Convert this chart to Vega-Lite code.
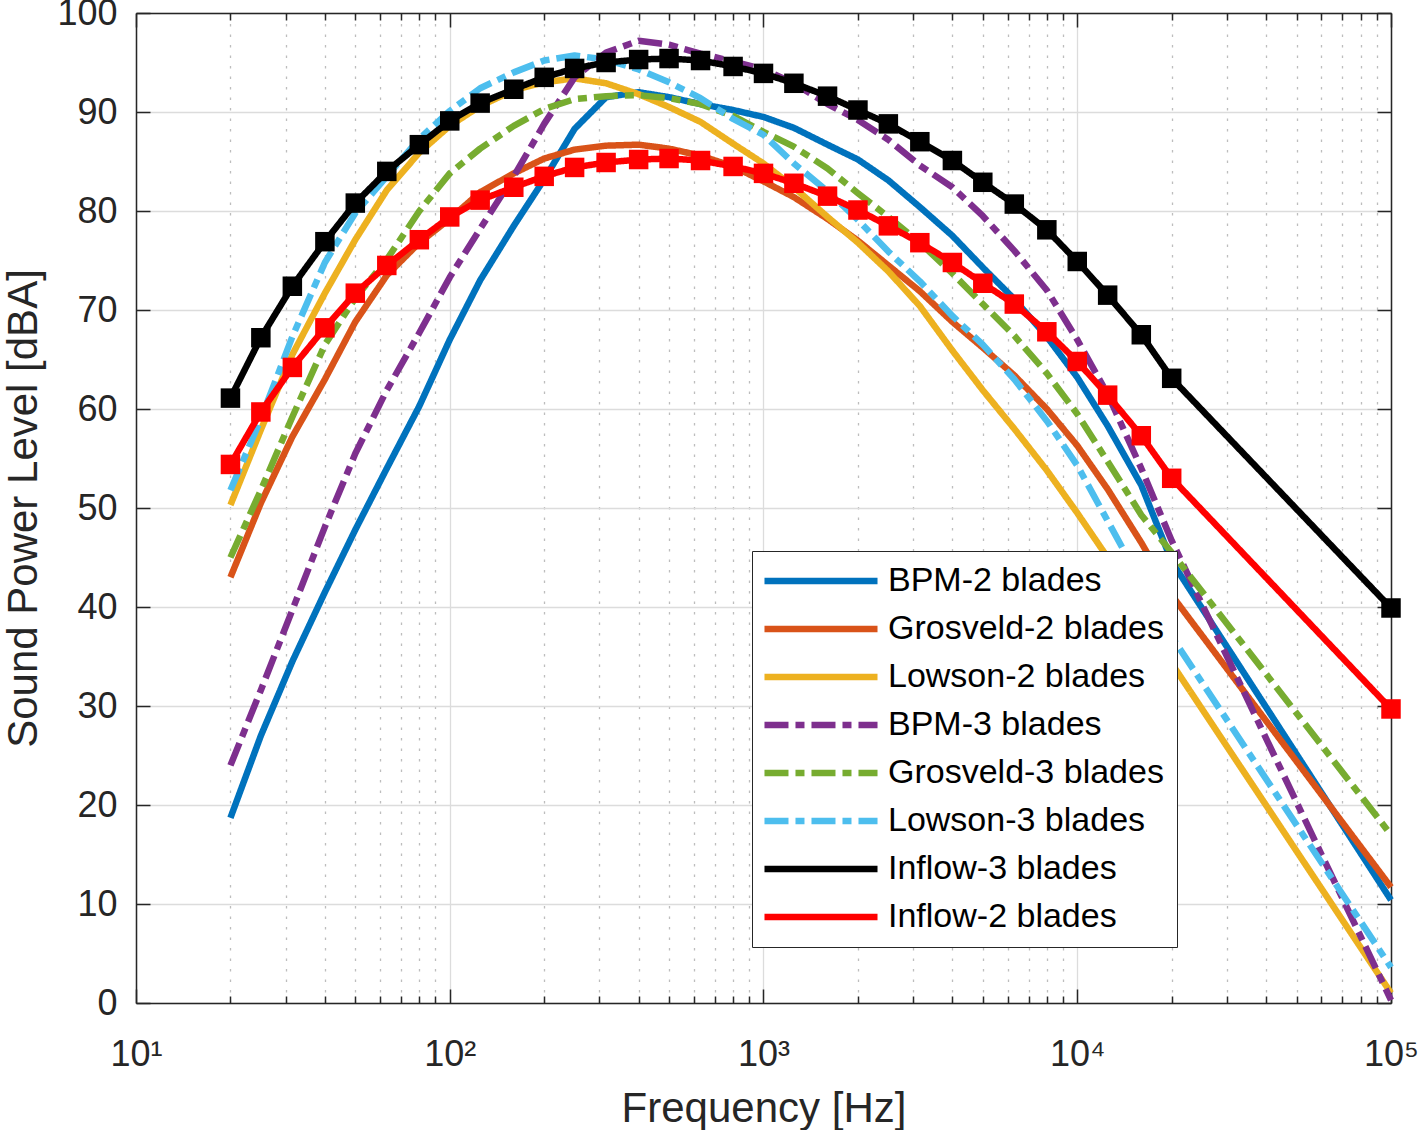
{
  "$schema": "https://vega.github.io/schema/vega-lite/v6.json",
  "width": 1255,
  "height": 990,
  "autosize": {"type": "none"},
  "padding": {"left": 136, "top": 13, "right": 27, "bottom": 127},
  "background": "white",
  "config": {"view": {"stroke": null}, "font": "Liberation Sans"},
  "data": {"values": [
    {"f": 20, "BPM-2 blades": 18.7, "Grosveld-2 blades": 43.0, "Lowson-2 blades": 50.3, "BPM-3 blades": 24.0, "Grosveld-3 blades": 45.0, "Lowson-3 blades": 51.8, "Inflow-3 blades": 61.1, "Inflow-2 blades": 54.4},
    {"f": 25, "BPM-2 blades": 27.0, "Grosveld-2 blades": 50.5, "Lowson-2 blades": 57.9, "BPM-3 blades": 31.6, "Grosveld-3 blades": 51.8, "Lowson-3 blades": 59.0, "Inflow-3 blades": 67.2, "Inflow-2 blades": 59.7},
    {"f": 31.5, "BPM-2 blades": 34.5, "Grosveld-2 blades": 57.2, "Lowson-2 blades": 65.5, "BPM-3 blades": 39.7, "Grosveld-3 blades": 59.2, "Lowson-3 blades": 67.3, "Inflow-3 blades": 72.4, "Inflow-2 blades": 64.2},
    {"f": 40, "BPM-2 blades": 41.5, "Grosveld-2 blades": 63.0, "Lowson-2 blades": 71.7, "BPM-3 blades": 48.1, "Grosveld-3 blades": 66.5, "Lowson-3 blades": 74.8, "Inflow-3 blades": 76.9, "Inflow-2 blades": 68.2},
    {"f": 50, "BPM-2 blades": 47.8, "Grosveld-2 blades": 68.8, "Lowson-2 blades": 77.1, "BPM-3 blades": 55.5, "Grosveld-3 blades": 71.2, "Lowson-3 blades": 79.8, "Inflow-3 blades": 80.8, "Inflow-2 blades": 71.7},
    {"f": 63, "BPM-2 blades": 54.0, "Grosveld-2 blades": 73.5, "Lowson-2 blades": 82.1, "BPM-3 blades": 61.9, "Grosveld-3 blades": 75.1, "Lowson-3 blades": 83.5, "Inflow-3 blades": 84.0, "Inflow-2 blades": 74.5},
    {"f": 80, "BPM-2 blades": 60.3, "Grosveld-2 blades": 76.8, "Lowson-2 blades": 85.9, "BPM-3 blades": 67.7, "Grosveld-3 blades": 80.0, "Lowson-3 blades": 87.3, "Inflow-3 blades": 86.7, "Inflow-2 blades": 77.1},
    {"f": 100, "BPM-2 blades": 67.0, "Grosveld-2 blades": 79.2, "Lowson-2 blades": 88.6, "BPM-3 blades": 73.3, "Grosveld-3 blades": 83.8, "Lowson-3 blades": 90.1, "Inflow-3 blades": 89.1, "Inflow-2 blades": 79.4},
    {"f": 125, "BPM-2 blades": 73.0, "Grosveld-2 blades": 81.9, "Lowson-2 blades": 90.6, "BPM-3 blades": 78.2, "Grosveld-3 blades": 86.3, "Lowson-3 blades": 92.4, "Inflow-3 blades": 90.9, "Inflow-2 blades": 81.1},
    {"f": 160, "BPM-2 blades": 78.5, "Grosveld-2 blades": 83.8, "Lowson-2 blades": 92.2, "BPM-3 blades": 83.5, "Grosveld-3 blades": 88.6, "Lowson-3 blades": 94.0, "Inflow-3 blades": 92.3, "Inflow-2 blades": 82.4},
    {"f": 200, "BPM-2 blades": 83.2, "Grosveld-2 blades": 85.3, "Lowson-2 blades": 93.0, "BPM-3 blades": 88.8, "Grosveld-3 blades": 90.3, "Lowson-3 blades": 95.2, "Inflow-3 blades": 93.5, "Inflow-2 blades": 83.5},
    {"f": 250, "BPM-2 blades": 88.3, "Grosveld-2 blades": 86.2, "Lowson-2 blades": 93.4, "BPM-3 blades": 93.5, "Grosveld-3 blades": 91.3, "Lowson-3 blades": 95.7, "Inflow-3 blades": 94.4, "Inflow-2 blades": 84.4},
    {"f": 315, "BPM-2 blades": 91.5, "Grosveld-2 blades": 86.6, "Lowson-2 blades": 92.9, "BPM-3 blades": 96.0, "Grosveld-3 blades": 91.6, "Lowson-3 blades": 95.3, "Inflow-3 blades": 95.0, "Inflow-2 blades": 84.9},
    {"f": 400, "BPM-2 blades": 92.0, "Grosveld-2 blades": 86.7, "Lowson-2 blades": 91.8, "BPM-3 blades": 97.2, "Grosveld-3 blades": 91.7, "Lowson-3 blades": 94.3, "Inflow-3 blades": 95.3, "Inflow-2 blades": 85.2},
    {"f": 500, "BPM-2 blades": 91.5, "Grosveld-2 blades": 86.3, "Lowson-2 blades": 90.5, "BPM-3 blades": 96.8, "Grosveld-3 blades": 91.4, "Lowson-3 blades": 93.0, "Inflow-3 blades": 95.4, "Inflow-2 blades": 85.3},
    {"f": 630, "BPM-2 blades": 90.8, "Grosveld-2 blades": 85.6, "Lowson-2 blades": 89.0, "BPM-3 blades": 95.9, "Grosveld-3 blades": 90.8, "Lowson-3 blades": 91.4, "Inflow-3 blades": 95.2, "Inflow-2 blades": 85.1},
    {"f": 800, "BPM-2 blades": 90.2, "Grosveld-2 blades": 84.5, "Lowson-2 blades": 86.8, "BPM-3 blades": 95.1, "Grosveld-3 blades": 89.6, "Lowson-3 blades": 89.3, "Inflow-3 blades": 94.6, "Inflow-2 blades": 84.5},
    {"f": 1000, "BPM-2 blades": 89.5, "Grosveld-2 blades": 83.0, "Lowson-2 blades": 84.8, "BPM-3 blades": 94.3, "Grosveld-3 blades": 88.0, "Lowson-3 blades": 87.7, "Inflow-3 blades": 93.9, "Inflow-2 blades": 83.8},
    {"f": 1250, "BPM-2 blades": 88.4, "Grosveld-2 blades": 81.4, "Lowson-2 blades": 82.4, "BPM-3 blades": 92.9, "Grosveld-3 blades": 86.5, "Lowson-3 blades": 84.8, "Inflow-3 blades": 92.9, "Inflow-2 blades": 82.8},
    {"f": 1600, "BPM-2 blades": 86.7, "Grosveld-2 blades": 79.2, "Lowson-2 blades": 79.4, "BPM-3 blades": 90.8, "Grosveld-3 blades": 84.3, "Lowson-3 blades": 82.0, "Inflow-3 blades": 91.6, "Inflow-2 blades": 81.5},
    {"f": 2000, "BPM-2 blades": 85.2, "Grosveld-2 blades": 77.0, "Lowson-2 blades": 76.8, "BPM-3 blades": 89.2, "Grosveld-3 blades": 81.8, "Lowson-3 blades": 79.1, "Inflow-3 blades": 90.2, "Inflow-2 blades": 80.1},
    {"f": 2500, "BPM-2 blades": 83.1, "Grosveld-2 blades": 74.5, "Lowson-2 blades": 73.9, "BPM-3 blades": 87.2, "Grosveld-3 blades": 79.4, "Lowson-3 blades": 75.9, "Inflow-3 blades": 88.8, "Inflow-2 blades": 78.5},
    {"f": 3150, "BPM-2 blades": 80.4, "Grosveld-2 blades": 71.9, "Lowson-2 blades": 70.4, "BPM-3 blades": 84.6, "Grosveld-3 blades": 76.8, "Lowson-3 blades": 72.9, "Inflow-3 blades": 87.0, "Inflow-2 blades": 76.8},
    {"f": 4000, "BPM-2 blades": 77.5, "Grosveld-2 blades": 68.8, "Lowson-2 blades": 65.9, "BPM-3 blades": 82.4, "Grosveld-3 blades": 73.7, "Lowson-3 blades": 69.4, "Inflow-3 blades": 85.1, "Inflow-2 blades": 74.8},
    {"f": 5000, "BPM-2 blades": 74.3, "Grosveld-2 blades": 66.2, "Lowson-2 blades": 61.9, "BPM-3 blades": 79.5, "Grosveld-3 blades": 70.6, "Lowson-3 blades": 66.5, "Inflow-3 blades": 82.9, "Inflow-2 blades": 72.7},
    {"f": 6300, "BPM-2 blades": 71.1, "Grosveld-2 blades": 63.4, "Lowson-2 blades": 58.0, "BPM-3 blades": 76.0, "Grosveld-3 blades": 67.4, "Lowson-3 blades": 63.0, "Inflow-3 blades": 80.7, "Inflow-2 blades": 70.6},
    {"f": 8000, "BPM-2 blades": 67.3, "Grosveld-2 blades": 60.0, "Lowson-2 blades": 53.8, "BPM-3 blades": 72.0, "Grosveld-3 blades": 63.6, "Lowson-3 blades": 58.8, "Inflow-3 blades": 78.1, "Inflow-2 blades": 67.8},
    {"f": 10000, "BPM-2 blades": 63.2, "Grosveld-2 blades": 56.3, "Lowson-2 blades": 49.5, "BPM-3 blades": 67.0, "Grosveld-3 blades": 59.5, "Lowson-3 blades": 54.3, "Inflow-3 blades": 74.9, "Inflow-2 blades": 64.8},
    {"f": 12500, "BPM-2 blades": 58.3, "Grosveld-2 blades": 51.9, "Lowson-2 blades": 45.0, "BPM-3 blades": 61.5, "Grosveld-3 blades": 54.7, "Lowson-3 blades": 48.7, "Inflow-3 blades": 71.5, "Inflow-2 blades": 61.4},
    {"f": 16000, "BPM-2 blades": 52.3, "Grosveld-2 blades": 46.5, "Lowson-2 blades": 40.0, "BPM-3 blades": 54.0, "Grosveld-3 blades": 49.3, "Lowson-3 blades": 42.5, "Inflow-3 blades": 67.5, "Inflow-2 blades": 57.3},
    {"f": 20000, "BPM-2 blades": 44.6, "Grosveld-2 blades": 41.2, "Lowson-2 blades": 34.3, "BPM-3 blades": 46.7, "Grosveld-3 blades": 45.5, "Lowson-3 blades": 37.0, "Inflow-3 blades": 63.1, "Inflow-2 blades": 53.0},
    {"f": 100000, "BPM-2 blades": 10.4, "Grosveld-2 blades": 11.7, "Lowson-2 blades": 1.0, "BPM-3 blades": 0.3, "Grosveld-3 blades": 17.0, "Lowson-3 blades": 3.6, "Inflow-3 blades": 39.9, "Inflow-2 blades": 29.7}
  ]},
  "transform": [
    {"fold": ["BPM-2 blades", "Grosveld-2 blades", "Lowson-2 blades", "BPM-3 blades", "Grosveld-3 blades", "Lowson-3 blades", "Inflow-3 blades", "Inflow-2 blades"], "as": ["s", "v"]}
  ],
  "layer": [
    {
      "mark": {"type": "line", "strokeWidth": 6.5, "strokeCap": "butt", "strokeJoin": "round"},
      "encoding": {
        "x": {
          "field": "f", "type": "quantitative",
          "scale": {"type": "log", "domain": [10, 100000], "nice": false},
          "axis": {
            "orient": "bottom",
            "values": [10,20,30,40,50,60,70,80,90,100,200,300,400,500,600,700,800,900,1000,2000,3000,4000,5000,6000,7000,8000,9000,10000,20000,30000,40000,50000,60000,70000,80000,90000,100000],
            "labelExpr": "datum.value == 10 ? '10¹' : datum.value == 100 ? '10²' : datum.value == 1000 ? '10³' : datum.value == 10000 ? '10⁴' : datum.value == 100000 ? '10⁵' : ''",
            "labelFontSize": 36, "labelColor": "#262626", "labelPadding": 48,
            "labelFlush": false, "labelOverlap": false, "labelBound": false,
            "title": "Frequency [Hz]", "titleFontSize": 42, "titleFontWeight": "normal", "titleColor": "#262626", "titlePadding": 9,
            "tickSize": {"condition": {"test": "indexof([10,100,1000,10000,100000], datum.value) >= 0", "value": -14}, "value": -7},
            "tickColor": "#262626", "tickWidth": 1.5,
            "domainColor": "#262626", "domainWidth": 1.5,
            "grid": true,
            "gridColor": {"condition": {"test": "indexof([10,100,1000,10000,100000], datum.value) >= 0", "value": "#DCDCDC"}, "value": "#BDBDBD"},
            "gridDash": {"condition": {"test": "indexof([10,100,1000,10000,100000], datum.value) >= 0", "value": []}, "value": [2.5, 8]},
            "gridWidth": 1.3
          }
        },
        "y": {
          "field": "v", "type": "quantitative",
          "scale": {"domain": [0, 100], "nice": false},
          "axis": {
            "orient": "left",
            "values": [0,10,20,30,40,50,60,70,80,90,100],
            "labelFontSize": 36, "labelColor": "#262626", "labelPadding": 33,
            "labelFlush": false, "labelOverlap": false, "labelBound": false,
            "title": "Sound Power Level [dBA]", "titleFontSize": 42, "titleFontWeight": "normal", "titleColor": "#262626", "titlePadding": 11,
            "tickSize": -14, "tickColor": "#262626", "tickWidth": 1.5,
            "domainColor": "#262626", "domainWidth": 1.5,
            "grid": true, "gridColor": "#DCDCDC", "gridWidth": 1.3
          }
        },
        "color": {
          "field": "s", "type": "nominal",
          "scale": {
            "domain": ["BPM-2 blades", "Grosveld-2 blades", "Lowson-2 blades", "BPM-3 blades", "Grosveld-3 blades", "Lowson-3 blades", "Inflow-3 blades", "Inflow-2 blades"],
            "range": ["#0072BD", "#D95319", "#EDB120", "#7E2F8E", "#77AC30", "#4DBEEE", "#000000", "#FF0000"]
          },
          "legend": {
            "title": null, "orient": "none", "legendX": 616, "legendY": 538,
            "fillColor": "white", "strokeColor": "#262626", "padding": 13,
            "labelFontSize": 34, "labelColor": "#000000", "labelLimit": 0,
            "symbolType": "M-5,0H5", "symbolSize": 511, "symbolOffset": 39, "labelOffset": 50,
            "symbolStrokeWidth": 6.5, "rowPadding": 14
          }
        },
        "strokeDash": {
          "field": "s", "type": "nominal",
          "scale": {
            "domain": ["BPM-2 blades", "Grosveld-2 blades", "Lowson-2 blades", "BPM-3 blades", "Grosveld-3 blades", "Lowson-3 blades", "Inflow-3 blades", "Inflow-2 blades"],
            "range": [[1, 0], [1, 0], [1, 0], [24, 7, 9, 7], [24, 7, 9, 7], [24, 7, 9, 7], [1, 0], [1, 0]]
          },
          "legend": {
            "title": null, "orient": "none", "legendX": 616, "legendY": 538,
            "fillColor": "white", "strokeColor": "#262626", "padding": 13,
            "labelFontSize": 34, "labelColor": "#000000", "labelLimit": 0,
            "symbolType": "M-5,0H5", "symbolSize": 511, "symbolOffset": 39, "labelOffset": 50,
            "symbolStrokeWidth": 6.5, "rowPadding": 14
          }
        }
      }
    },
    {
      "transform": [{"filter": "indexof(datum.s, 'Inflow') >= 0"}],
      "mark": {"type": "square", "filled": true, "size": 380, "opacity": 1},
      "encoding": {
        "x": {
          "field": "f", "type": "quantitative",
          "scale": {"type": "log", "domain": [10, 100000], "nice": false},
          "axis": {
            "orient": "top",
            "values": [10,20,30,40,50,60,70,80,90,100,200,300,400,500,600,700,800,900,1000,2000,3000,4000,5000,6000,7000,8000,9000,10000,20000,30000,40000,50000,60000,70000,80000,90000,100000],
            "labels": false, "title": null, "grid": false,
            "tickSize": {"condition": {"test": "indexof([10,100,1000,10000,100000], datum.value) >= 0", "value": -14}, "value": -7},
            "tickColor": "#262626", "tickWidth": 1.5,
            "domainColor": "#262626", "domainWidth": 1.5
          }
        },
        "y": {
          "field": "v", "type": "quantitative",
          "scale": {"domain": [0, 100], "nice": false},
          "axis": {
            "orient": "right",
            "values": [0,10,20,30,40,50,60,70,80,90,100],
            "labels": false, "title": null, "grid": false,
            "tickSize": -14, "tickColor": "#262626", "tickWidth": 1.5,
            "domainColor": "#262626", "domainWidth": 1.5
          }
        },
        "fill": {
          "field": "s", "type": "nominal",
          "scale": {"domain": ["Inflow-3 blades", "Inflow-2 blades"], "range": ["#000000", "#FF0000"]},
          "legend": null
        }
      }
    }
  ],
  "resolve": {"axis": {"x": "independent", "y": "independent"}}
}
